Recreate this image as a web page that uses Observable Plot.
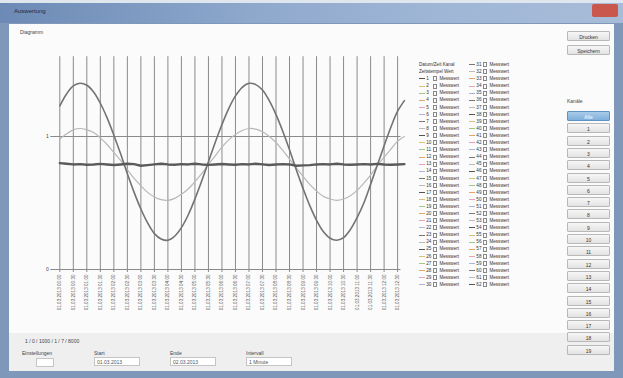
<!DOCTYPE html>
<html><head><meta charset="utf-8">
<script src="https://cdn.jsdelivr.net/npm/d3@7"></script>
<script src="https://cdn.jsdelivr.net/npm/@observablehq/plot@0.6"></script>
<style>
body{margin:0;width:623px;height:378px;overflow:hidden;background:#7f97b8;font-family:"Liberation Sans",Arial,sans-serif;position:relative}
.abs{position:absolute}
#title{left:0;width:623px;height:20px;top:3px;background:linear-gradient(90deg,#6c8ab5,#8ea8cc 40%,#9fb6d6 70%,#a7bcd8)}
#topedge{left:0;top:0;width:623px;height:4px;background:#dfe6ee}
#close{left:592px;top:4px;width:26px;height:13px;background:#c9574c;border-radius:2px}
#client{left:9px;top:24px;width:605px;height:347px;background:#fbfbfb}
#bottom{left:9px;top:333px;width:605px;height:38px;background:#efefef}
.lbl{font-size:5px;color:#444;white-space:nowrap}
.btn{position:absolute;width:43px;height:10px;border:1px solid #b8b8b8;background:linear-gradient(#f6f6f6,#e3e3e3);font-size:5px;color:#333;text-align:center;line-height:10px;box-sizing:border-box;border-radius:1px}
.btn.sel{background:linear-gradient(#a9cbe8,#7fb0dc);border-color:#5f93c4;color:#fff}
.tb{position:absolute;height:9px;border:1px solid #c4c4c4;background:#fff;font-size:5px;color:#555;line-height:8px;padding-left:2px;box-sizing:border-box}
#legend{left:418px;top:61px;font-size:4.6px;color:#333}
#legend table{border-collapse:collapse}
#legend td{padding:0 1px;height:7.1px;line-height:7.1px;white-space:nowrap}
.sw{display:inline-block;width:6px;height:1px;vertical-align:middle}
.cb{display:inline-block;width:4px;height:5px;border:1px solid #888;vertical-align:middle;box-sizing:border-box}
</style></head><body>
<div class="abs" id="topedge"></div>
<div class="abs" id="title"></div>
<div class="abs lbl" style="left:14px;top:8px;color:#1a2a40;font-size:6px">Auswertung</div>
<div class="abs" id="close"></div>
<div class="abs" id="client"></div>
<div class="abs" id="bottom"></div>
<div class="abs lbl" style="left:20px;top:29px">Diagramm</div>
<div class="btn" style="left:567px;top:31px">Drucken</div>
<div class="btn" style="left:567px;top:45px">Speichern</div>
<div class="abs" id="chart" style="left:20px;top:45px"></div>
<div class="abs" id="legend"></div>
<div class="abs lbl" style="left:567px;top:98px">Kanäle</div>
<div id="chanbtns"></div>
<div class="abs lbl" style="left:25px;top:338px">1 / 0 / 1000 / 1 / 7 / 8000</div>
<div class="abs lbl" style="left:22px;top:350px">Einstellungen</div>
<div class="tb" style="left:36px;top:358px;width:18px"></div>
<div class="abs lbl" style="left:94px;top:350px">Start</div>
<div class="tb" style="left:94px;top:357px;width:46px">01.03.2013</div>
<div class="abs lbl" style="left:170px;top:350px">Ende</div>
<div class="tb" style="left:170px;top:357px;width:46px">02.03.2013</div>
<div class="abs lbl" style="left:246px;top:350px">Intervall</div>
<div class="tb" style="left:246px;top:357px;width:46px">1 Minute</div>
<script>
// x categories (time stamps, one per vertical grid line)
const xLabels = ["01.03.2013 00:00","01.03.2013 00:30","01.03.2013 01:00","01.03.2013 01:30","01.03.2013 02:00","01.03.2013 02:30","01.03.2013 03:00","01.03.2013 03:30","01.03.2013 04:00","01.03.2013 04:30","01.03.2013 05:00","01.03.2013 05:30","01.03.2013 06:00","01.03.2013 06:30","01.03.2013 07:00","01.03.2013 07:30","01.03.2013 08:00","01.03.2013 08:30","01.03.2013 09:00","01.03.2013 09:30","01.03.2013 10:00","01.03.2013 10:30","01.03.2013 11:00","01.03.2013 11:30","01.03.2013 12:00","01.03.2013 12:30"];
const yTicks = [0, 1];
// samples every half grid step
const bigWave = [1.23,1.32,1.38,1.40,1.385,1.335,1.25,1.14,1.01,0.87,0.72,0.58,0.455,0.35,0.27,0.23,0.22,0.25,0.315,0.41,0.53,0.665,0.81,0.955,1.09,1.21,1.305,1.37,1.40,1.39,1.35,1.27,1.165,1.04,0.90,0.75,0.61,0.48,0.37,0.285,0.235,0.22,0.24,0.30,0.39,0.50,0.64,0.785,0.93,1.07,1.19,1.27];
const smallWave = [0.98,1.02,1.05,1.06,1.05,1.03,0.99,0.94,0.88,0.82,0.75,0.685,0.63,0.58,0.545,0.525,0.52,0.535,0.565,0.605,0.66,0.72,0.79,0.855,0.92,0.975,1.015,1.045,1.06,1.055,1.035,1.0,0.955,0.895,0.83,0.765,0.70,0.64,0.59,0.55,0.53,0.52,0.53,0.555,0.595,0.65,0.71,0.78,0.845,0.905,0.965,1.0];
const flatLine = [0.80,0.795,0.79,0.792,0.788,0.79,0.794,0.79,0.786,0.79,0.795,0.792,0.78,0.785,0.79,0.795,0.79,0.788,0.792,0.79,0.795,0.79,0.787,0.79,0.793,0.79,0.788,0.792,0.79,0.795,0.79,0.786,0.79,0.792,0.79,0.78,0.783,0.785,0.79,0.792,0.79,0.795,0.79,0.788,0.79,0.792,0.79,0.794,0.79,0.788,0.79,0.792];
const legendLeftA = ["Datum/Zeit","Zeitstempel","1","2","3","4","5","6","7","8","9","10","11","12","13","14","15","16","17","18","19","20","21","22","23","24","25","26","27","28","29","30"];
const legendLeftB = ["","","Messwert","Messwert","Messwert","Messwert","Messwert","Messwert","Messwert","Messwert","Messwert","Messwert","Messwert","Messwert","Messwert","Messwert","Messwert","Messwert","Messwert","Messwert","Messwert","Messwert","Messwert","Messwert","Messwert","Messwert","Messwert","Messwert","Messwert","Messwert","Messwert","Messwert"];
const legendRightA = ["31","32","33","34","35","36","37","38","39","40","41","42","43","44","45","46","47","48","49","50","51","52","53","54","55","56","57","58","59","60","61","62"];
const legendColors = ["#777","#bbb","#555","#d8c27a","#9fc98a","#e6a36a","#e6a2b8","#a7b6e0"];
const channels = ["Alle","1","2","3","4","5","6","7","8","9","10","11","12","13","14","15","16","17","18","19"];

const n = bigWave.length;
const rows = [];
for (let i = 0; i < n; i++) rows.push({t: i * 0.5, big: bigWave[i], small: smallWave[i], flat: flatLine[i]});
const tickPos = xLabels.map((d, i) => i);

const chart = Plot.plot({
  width: 390, height: 285,
  marginLeft: 39.3, marginRight: 9.5, marginTop: 11.2, marginBottom: 61,
  style: {background: "transparent", fontFamily: "Liberation Sans, Arial, sans-serif", color: "#444"},
  x: {domain: [0, 25.25]},
  y: {domain: [0, 1.6]},
  marks: [
    Plot.ruleX(tickPos, {stroke: "#8a8a8a", strokeWidth: 1, y1: 0, y2: 1.6}),
    Plot.ruleY(yTicks, {stroke: "#8a8a8a", strokeWidth: 1}),
    Plot.axisY({ticks: yTicks, tickFormat: "d", tickSize: 9, stroke: "#8a8a8a", fill: "#444", fontSize: 5, tickPadding: 2, label: null}),
    Plot.axisX({ticks: tickPos, tickFormat: i => xLabels[i], tickRotate: -90, tickSize: 3, fontSize: 4.6, stroke: "#8a8a8a", fill: "#555", tickPadding: 2, label: null}),
    Plot.line(rows, {x: "t", y: "small", stroke: "#b8b8b8", strokeWidth: 1.2, curve: "catmull-rom"}),
    Plot.line(rows, {x: "t", y: "big", stroke: "#737373", strokeWidth: 1.6, curve: "catmull-rom"}),
    Plot.line(rows, {x: "t", y: "flat", stroke: "#5a5a5a", strokeWidth: 2.4})
  ]
});
document.getElementById("chart").appendChild(chart);

// legend
const tbl = document.createElement("table");
for (let r = 0; r < legendLeftA.length; r++) {
  const tr = document.createElement("tr");
  const c = legendColors[r % legendColors.length];
  if (r < 2) {
    tr.innerHTML = `<td colspan="3">${legendLeftA[r]} ${legendLeftA[r] === "Datum/Zeit" ? "Kanal" : "Wert"}</td><td style="width:6px"></td><td><span class="sw" style="background:${c}"></span> ${legendRightA[r]}</td><td><span class="cb"></span></td><td>Messwert</td>`;
  } else {
    tr.innerHTML = `<td><span class="sw" style="background:${c}"></span> ${legendLeftA[r]}</td><td><span class="cb"></span></td><td>${legendLeftB[r]}</td><td style="width:6px"></td><td><span class="sw" style="background:${legendColors[(r+3)%legendColors.length]}"></span> ${legendRightA[r]}</td><td><span class="cb"></span></td><td>Messwert</td>`;
  }
  tbl.appendChild(tr);
}
document.getElementById("legend").appendChild(tbl);

// channel buttons
const cb = document.getElementById("chanbtns");
channels.forEach((ch, i) => {
  const b = document.createElement("div");
  b.className = "btn" + (i === 0 ? " sel" : "");
  b.style.left = "567px"; b.style.top = (111 + i * 12.3) + "px";
  b.textContent = ch;
  cb.appendChild(b);
});
</script>
</body></html>
